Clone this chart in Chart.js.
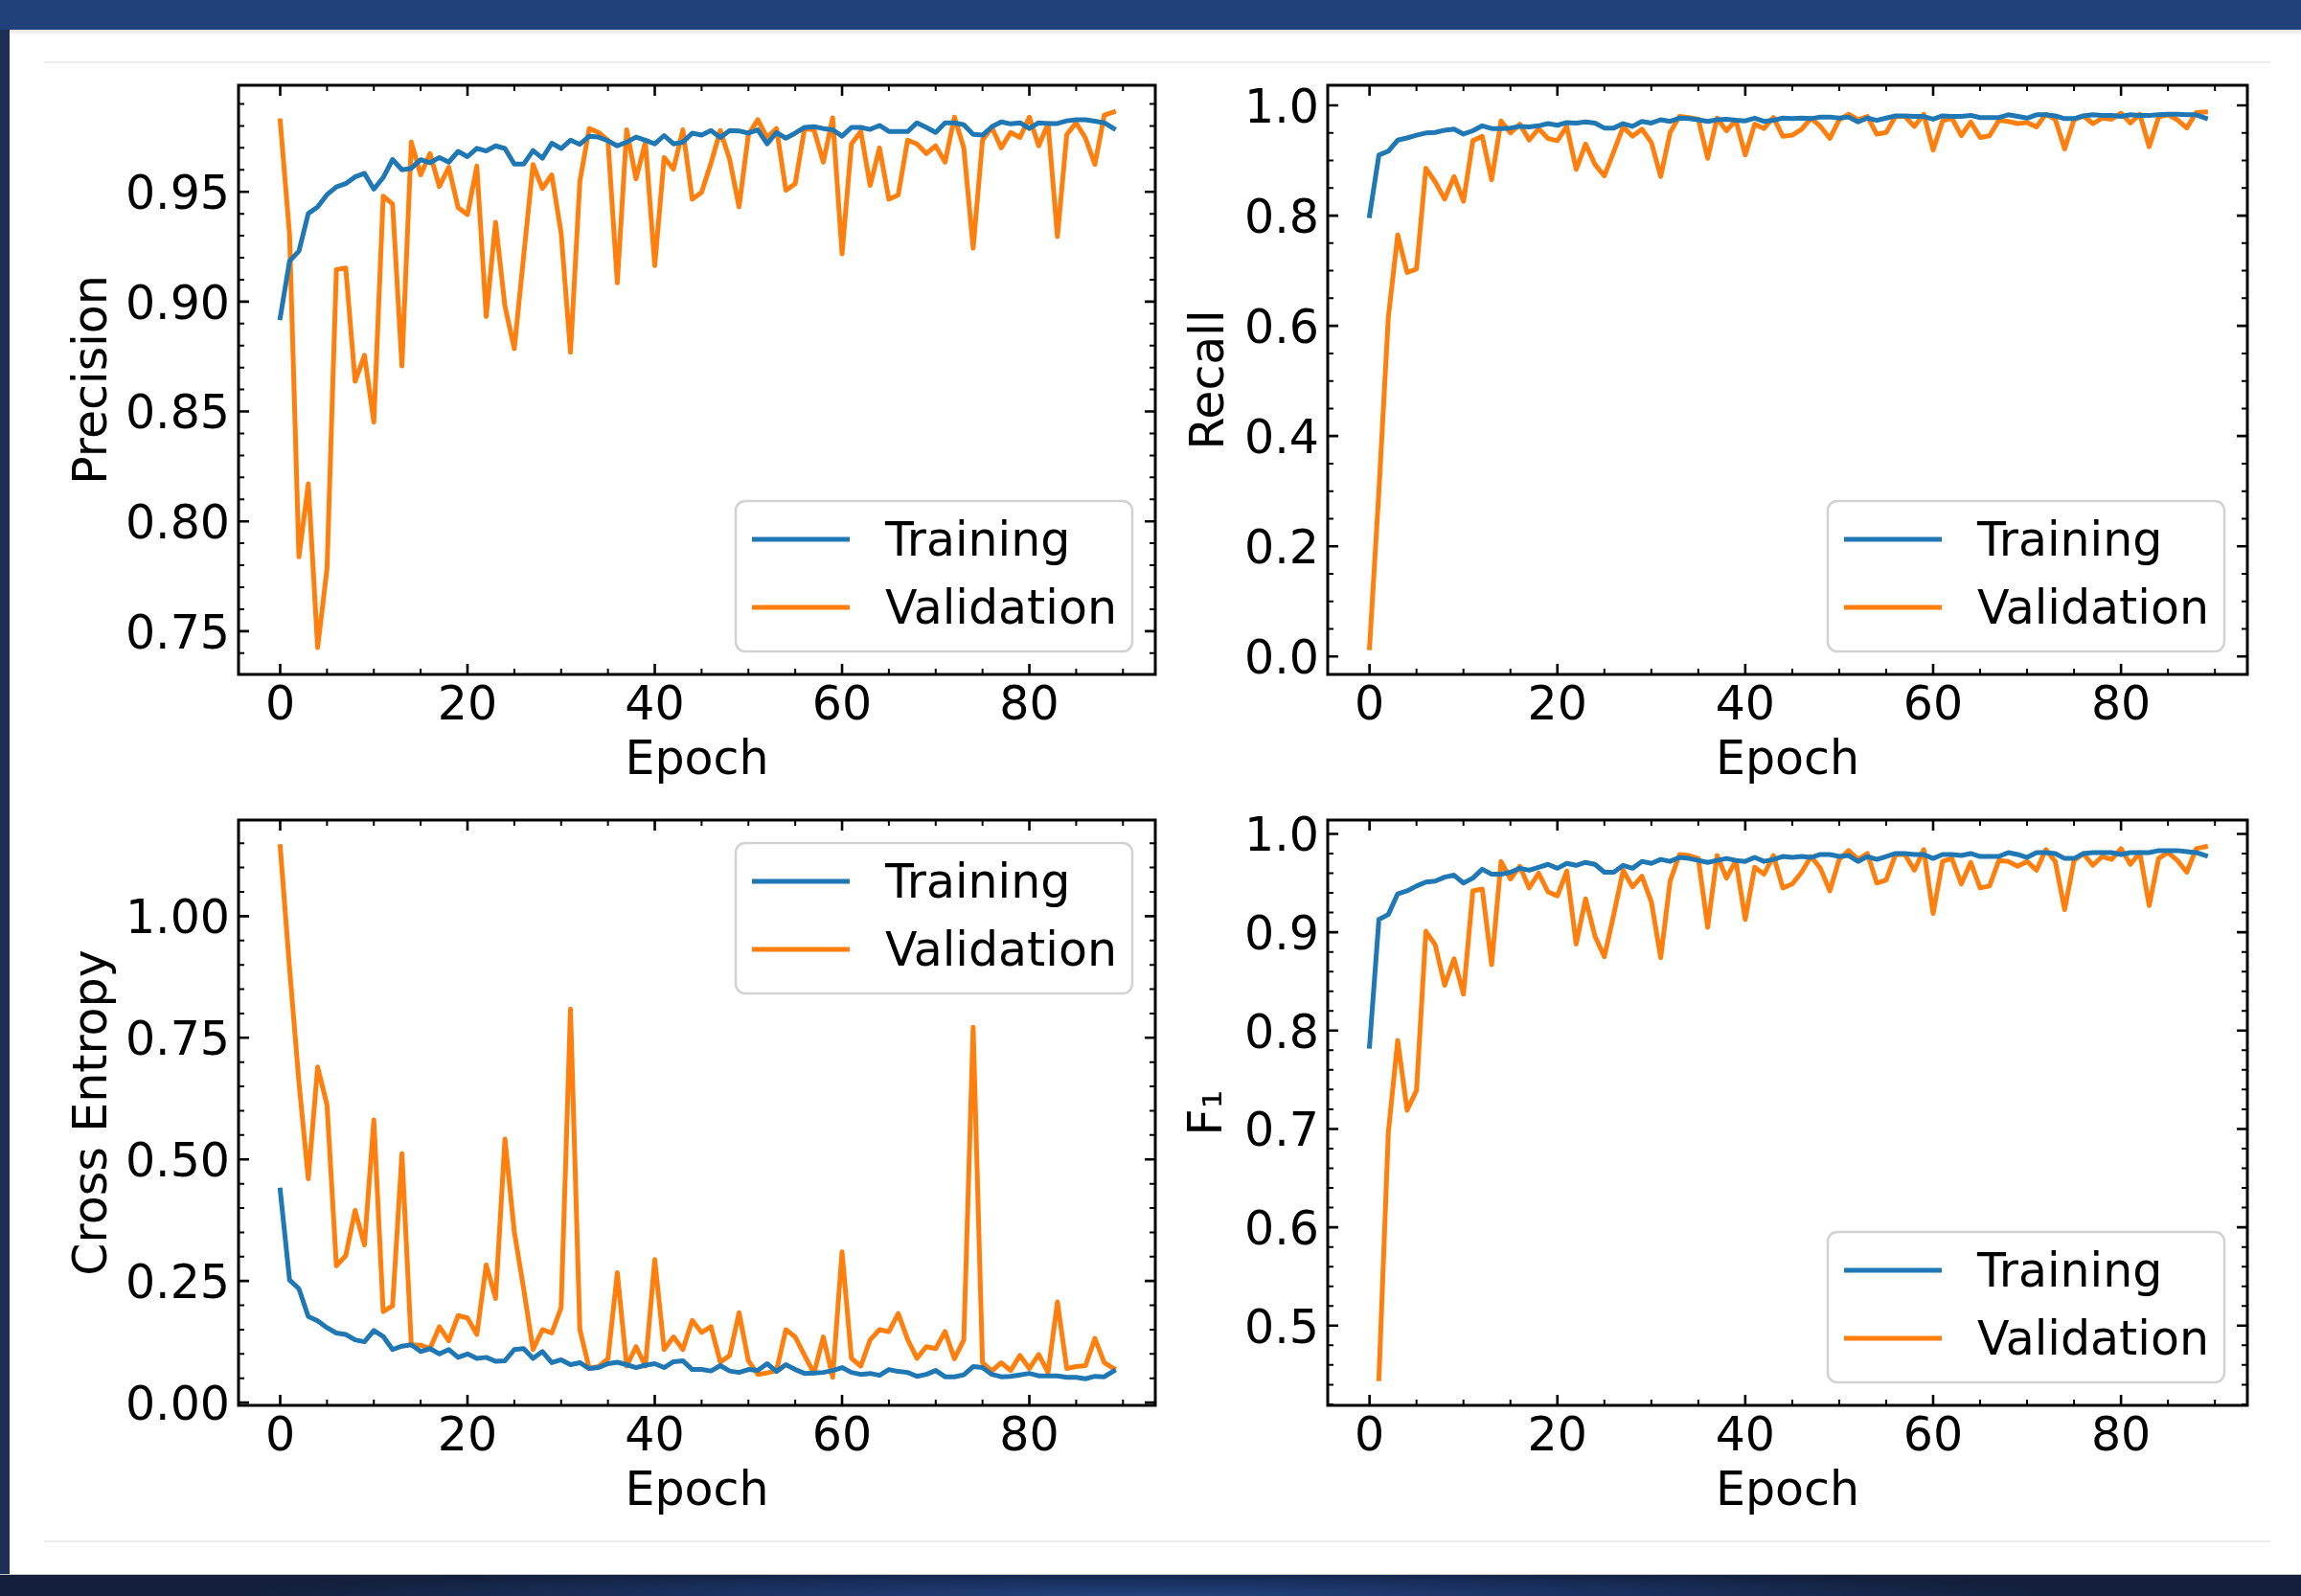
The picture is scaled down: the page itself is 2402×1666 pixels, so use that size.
<!DOCTYPE html>
<html>
<head>
<meta charset="utf-8">
<script src="https://cdn.jsdelivr.net/npm/chart.js@4.4.1/dist/chart.umd.min.js"></script>
<style>
  html, body { margin: 0; padding: 0; background: #fff; }
  body { width: 2402px; height: 1666px; position: relative; overflow: hidden; }
  #topbar { position: absolute; left: 0; top: 0; width: 2402px; height: 31px; background: #22407a; }
  #topshade { position: absolute; left: 10px; top: 31px; width: 2392px; height: 6px; background: linear-gradient(#e2e2e2, #ffffff); }
  #leftbar { position: absolute; left: 0; top: 31px; width: 10px; height: 1612px; background: #1b2f57; }
  #bottombar { position: absolute; left: 0; top: 1643px; width: 2402px; height: 23px;
    background: radial-gradient(ellipse 40% 140% at 50% 100%, #22437e 0%, #1a3262 45%, #131f3b 100%);
    border-top: 1px solid #c8c8c8; box-sizing: border-box; }
  .rule { position: absolute; left: 46px; width: 2324px; height: 2px; background: #ececec; }
  canvas { position: absolute; }
</style>
</head>
<body>
<div id="topbar"></div>
<div id="topshade"></div>
<div id="leftbar"></div>
<div class="rule" style="top:64px"></div>
<div class="rule" style="top:1608px"></div>
<div id="bottombar"></div>

<canvas id="precisionChart" width="1180" height="774" style="left:40px; top:60px"></canvas>
<canvas id="recallChart" width="1130" height="774" style="left:1230px; top:60px"></canvas>
<canvas id="lossChart" width="1180" height="757" style="left:40px; top:840px"></canvas>
<canvas id="f1Chart" width="1130" height="757" style="left:1230px; top:840px"></canvas>

<script>
// epochs 0..89
const epochs = Array.from({length: 90}, (_, i) => i);
const epochTicks = [0, 20, 40, 60, 80];
const seriesNames = ['Training', 'Validation'];

const precisionTicks = [0.75, 0.80, 0.85, 0.90, 0.95];
const recallTicks = [0.0, 0.2, 0.4, 0.6, 0.8, 1.0];
const lossTicks = [0.00, 0.25, 0.50, 0.75, 1.00];
const f1Ticks = [0.5, 0.6, 0.7, 0.8, 0.9, 1.0];

const precisionTrain = [
  0.8927, 0.9185, 0.9230, 0.9401, 0.9431, 0.9487, 0.9522, 0.9537, 0.9568, 0.9584,
  0.9512, 0.9565, 0.9647, 0.9600, 0.9607, 0.9646, 0.9632, 0.9656, 0.9635, 0.9684,
  0.9660, 0.9698, 0.9686, 0.9709, 0.9697, 0.9626, 0.9626, 0.9688, 0.9653, 0.9721,
  0.9697, 0.9735, 0.9716, 0.9753, 0.9749, 0.9732, 0.9709, 0.9726, 0.9749, 0.9735,
  0.9718, 0.9756, 0.9718, 0.9726, 0.9767, 0.9758, 0.9779, 0.9747, 0.9779, 0.9777,
  0.9767, 0.9782, 0.9718, 0.9770, 0.9744, 0.9767, 0.9793, 0.9796, 0.9788, 0.9782,
  0.9753, 0.9793, 0.9793, 0.9784, 0.9802, 0.9775, 0.9774, 0.9774, 0.9814, 0.9793,
  0.9770, 0.9814, 0.9814, 0.9805, 0.9761, 0.9758, 0.9796, 0.9818, 0.9809, 0.9814,
  0.9788, 0.9814, 0.9811, 0.9811, 0.9823, 0.9828, 0.9828, 0.9821, 0.9814, 0.9788
];
const precisionVal = [
  0.9823, 0.9305, 0.7838, 0.8171, 0.7425, 0.7785, 0.9146, 0.9153, 0.8637, 0.8756,
  0.8452, 0.9480, 0.9445, 0.8707, 0.9726, 0.9577, 0.9674, 0.9524, 0.9612, 0.9428,
  0.9396, 0.9617, 0.8932, 0.9361, 0.8980, 0.8786, 0.9208, 0.9624, 0.9515, 0.9577,
  0.9313, 0.8769, 0.9547, 0.9788, 0.9770, 0.9735, 0.9085, 0.9782, 0.9559, 0.9726,
  0.9164, 0.9656, 0.9603, 0.9782, 0.9466, 0.9498, 0.9630, 0.9779, 0.9647, 0.9431,
  0.9761, 0.9828, 0.9747, 0.9788, 0.9507, 0.9537, 0.9788, 0.9782, 0.9635, 0.9837,
  0.9217, 0.9718, 0.9775, 0.9529, 0.9700, 0.9466, 0.9486, 0.9735, 0.9718, 0.9674,
  0.9709, 0.9635, 0.9840, 0.9700, 0.9243, 0.9735, 0.9793, 0.9700, 0.9770, 0.9747,
  0.9840, 0.9709, 0.9811, 0.9296, 0.9761, 0.9814, 0.9744, 0.9624, 0.9849, 0.9863
];

const recallTrain = [
  0.800, 0.910, 0.917, 0.937, 0.941, 0.946, 0.950, 0.951, 0.955, 0.957,
  0.948, 0.954, 0.963, 0.958, 0.958, 0.959, 0.962, 0.961, 0.963, 0.967,
  0.964, 0.969, 0.968, 0.970, 0.968, 0.959, 0.959, 0.967, 0.962, 0.971,
  0.968, 0.974, 0.971, 0.977, 0.976, 0.974, 0.971, 0.974, 0.975, 0.973,
  0.972, 0.977, 0.971, 0.973, 0.977, 0.976, 0.977, 0.976, 0.979, 0.979,
  0.977, 0.979, 0.970, 0.977, 0.973, 0.977, 0.981, 0.981, 0.980, 0.980,
  0.975, 0.981, 0.980, 0.980, 0.982, 0.978, 0.978, 0.978, 0.983, 0.980,
  0.977, 0.983, 0.983, 0.981, 0.976, 0.976, 0.981, 0.983, 0.982, 0.982,
  0.980, 0.983, 0.982, 0.982, 0.983, 0.984, 0.984, 0.983, 0.983, 0.977
];
const recallVal = [
  0.016, 0.300, 0.615, 0.765, 0.697, 0.703, 0.886, 0.861, 0.830, 0.871,
  0.826, 0.936, 0.944, 0.865, 0.972, 0.950, 0.966, 0.937, 0.958, 0.940,
  0.936, 0.962, 0.884, 0.930, 0.893, 0.872, 0.916, 0.961, 0.944, 0.957,
  0.933, 0.871, 0.951, 0.980, 0.978, 0.975, 0.904, 0.977, 0.954, 0.973,
  0.910, 0.966, 0.958, 0.978, 0.944, 0.946, 0.957, 0.977, 0.962, 0.940,
  0.974, 0.984, 0.974, 0.980, 0.948, 0.951, 0.980, 0.980, 0.962, 0.984,
  0.919, 0.972, 0.977, 0.945, 0.970, 0.942, 0.945, 0.973, 0.971, 0.967,
  0.969, 0.961, 0.984, 0.975, 0.921, 0.974, 0.981, 0.967, 0.977, 0.975,
  0.986, 0.968, 0.984, 0.925, 0.979, 0.983, 0.974, 0.959, 0.987, 0.988
];

const lossTrain = [
  0.437, 0.252, 0.234, 0.177, 0.168, 0.154, 0.143, 0.140, 0.129, 0.125,
  0.148, 0.136, 0.109, 0.116, 0.119, 0.105, 0.111, 0.100, 0.109, 0.093,
  0.100, 0.091, 0.093, 0.085, 0.086, 0.109, 0.111, 0.091, 0.105, 0.082,
  0.088, 0.078, 0.082, 0.070, 0.072, 0.080, 0.083, 0.078, 0.072, 0.077,
  0.080, 0.072, 0.084, 0.086, 0.068, 0.068, 0.065, 0.076, 0.065, 0.062,
  0.068, 0.066, 0.080, 0.064, 0.078, 0.068, 0.060, 0.061, 0.062, 0.066,
  0.072, 0.062, 0.058, 0.060, 0.056, 0.068, 0.064, 0.062, 0.054, 0.058,
  0.066, 0.053, 0.053, 0.057, 0.074, 0.072, 0.058, 0.053, 0.054, 0.057,
  0.060, 0.055, 0.055, 0.055, 0.052, 0.052, 0.049, 0.054, 0.053, 0.065
];
const lossVal = [
  1.143, 0.893, 0.659, 0.460, 0.690, 0.612, 0.281, 0.302, 0.395, 0.324,
  0.581, 0.187, 0.199, 0.512, 0.119, 0.118, 0.111, 0.156, 0.127, 0.179,
  0.174, 0.140, 0.283, 0.214, 0.542, 0.351, 0.234, 0.109, 0.150, 0.143,
  0.195, 0.809, 0.150, 0.070, 0.074, 0.090, 0.267, 0.075, 0.115, 0.075,
  0.294, 0.109, 0.135, 0.109, 0.169, 0.144, 0.156, 0.083, 0.097, 0.185,
  0.086, 0.058, 0.061, 0.066, 0.150, 0.135, 0.097, 0.060, 0.135, 0.052,
  0.310, 0.091, 0.075, 0.129, 0.150, 0.146, 0.183, 0.130, 0.091, 0.115,
  0.111, 0.146, 0.090, 0.129, 0.772, 0.082, 0.065, 0.082, 0.066, 0.097,
  0.070, 0.099, 0.062, 0.207, 0.070, 0.074, 0.076, 0.132, 0.082, 0.070
];

const f1Train = [
  0.784, 0.913, 0.918, 0.939, 0.942, 0.947, 0.951, 0.952, 0.956, 0.958,
  0.950, 0.955, 0.964, 0.959, 0.959, 0.961, 0.965, 0.963, 0.966, 0.969,
  0.965, 0.970, 0.968, 0.971, 0.969, 0.961, 0.961, 0.968, 0.965, 0.972,
  0.970, 0.974, 0.972, 0.976, 0.975, 0.973, 0.971, 0.973, 0.975, 0.973,
  0.972, 0.976, 0.972, 0.974, 0.977, 0.976, 0.977, 0.976, 0.979, 0.979,
  0.977, 0.978, 0.972, 0.977, 0.974, 0.977, 0.980, 0.980, 0.979, 0.979,
  0.975, 0.979, 0.979, 0.978, 0.980, 0.977, 0.977, 0.977, 0.981, 0.979,
  0.976, 0.981, 0.981, 0.980, 0.975, 0.975, 0.980, 0.981, 0.981, 0.981,
  0.979, 0.981, 0.981, 0.981, 0.983, 0.983, 0.983, 0.982, 0.981, 0.978
];
// first validation F1 is undefined (no positive predictions yet)
const f1Val = [
  null,  0.446, 0.696, 0.790, 0.719, 0.739, 0.901, 0.887, 0.846, 0.873,
  0.837, 0.942, 0.944, 0.867, 0.972, 0.954, 0.967, 0.945, 0.960, 0.941,
  0.937, 0.962, 0.888, 0.934, 0.896, 0.875, 0.918, 0.963, 0.946, 0.957,
  0.931, 0.874, 0.952, 0.979, 0.978, 0.975, 0.905, 0.978, 0.955, 0.973,
  0.913, 0.966, 0.959, 0.978, 0.945, 0.949, 0.961, 0.977, 0.965, 0.942,
  0.974, 0.983, 0.974, 0.980, 0.950, 0.953, 0.979, 0.979, 0.963, 0.984,
  0.919, 0.972, 0.975, 0.949, 0.971, 0.945, 0.947, 0.973, 0.972, 0.967,
  0.972, 0.963, 0.984, 0.972, 0.923, 0.973, 0.980, 0.968, 0.977, 0.974,
  0.985, 0.969, 0.981, 0.927, 0.975, 0.981, 0.973, 0.961, 0.985, 0.987
];

const BLUE = '#1f77b4';
const ORANGE = '#ff7f0e';
const FONT = { family: 'DejaVu Sans', size: 49, lineHeight: 1.2 };

Chart.defaults.font.family = 'DejaVu Sans';
Chart.defaults.color = '#000';

// matplotlib-ish inward ticks on all four sides
function markTicks(ctx, scale, a, step, majors, horizontal) {
  const first = Math.ceil(scale.min / step - 1e-6);
  const last = Math.floor(scale.max / step + 1e-6);
  for (let n = first; n <= last; n++) {
    const v = n * step;
    const major = majors.some(m => Math.abs(m - v) < step / 100);
    const len = major ? 11 : 6;
    const p = scale.getPixelForValue(v);
    ctx.lineWidth = major ? 2.6 : 2;
    ctx.beginPath();
    if (horizontal) {
      ctx.moveTo(p, a.bottom); ctx.lineTo(p, a.bottom - len);
      ctx.moveTo(p, a.top); ctx.lineTo(p, a.top + len);
    } else {
      ctx.moveTo(a.left, p); ctx.lineTo(a.left + len, p);
      ctx.moveTo(a.right, p); ctx.lineTo(a.right - len, p);
    }
    ctx.stroke();
  }
}

function drawLegend(ctx, chart, corner) {
  const a = chart.chartArea;
  const w = 414, h = 157, inset = 24, r = 10;
  const bx = a.right - inset - w;
  const by = corner === 'top' ? a.top + inset : a.bottom - inset - h;
  ctx.beginPath();
  ctx.moveTo(bx + r, by);
  ctx.arcTo(bx + w, by, bx + w, by + h, r);
  ctx.arcTo(bx + w, by + h, bx, by + h, r);
  ctx.arcTo(bx, by + h, bx, by, r);
  ctx.arcTo(bx, by, bx + w, by, r);
  ctx.closePath();
  ctx.fillStyle = 'rgba(255,255,255,0.8)';
  ctx.fill();
  ctx.lineWidth = 2.5;
  ctx.strokeStyle = '#d2d2d2';
  ctx.stroke();

  chart.data.datasets.forEach((ds, i) => {
    const ly = by + 40 + i * 71;
    ctx.beginPath();
    ctx.lineWidth = 5;
    ctx.strokeStyle = ds.borderColor;
    ctx.moveTo(bx + 17, ly);
    ctx.lineTo(bx + 119, ly);
    ctx.stroke();
    ctx.fillStyle = '#000';
    ctx.font = '49px "DejaVu Sans"';
    ctx.textAlign = 'left';
    ctx.textBaseline = 'middle';
    ctx.fillText(ds.label, bx + 156, ly + 4);
  });
}

const framePlugin = {
  id: 'mplFrame',
  afterDatasetsDraw(chart, args, o) {
    const { ctx, chartArea: a, scales } = chart;
    ctx.save();
    ctx.strokeStyle = '#000';
    ctx.lineCap = 'butt';
    markTicks(ctx, scales.x, a, o.minorX, epochTicks, true);
    markTicks(ctx, scales.y, a, o.minorY, o.majorY, false);
    ctx.lineWidth = 3;
    ctx.strokeRect(a.left, a.top, a.right - a.left, a.bottom - a.top);
    drawLegend(ctx, chart, o.corner);
    ctx.restore();
  }
};

function toPoints(values) {
  return epochs.map((e, i) => ({ x: e, y: values[i] }));
}

function drawPanel(id, p) {
  const all = p.train.concat(p.val).filter(v => v !== null);
  const lo = Math.min(...all);
  const hi = Math.max(...all);
  const margin = (hi - lo) * 0.05;

  new Chart(document.getElementById(id), {
    type: 'line',
    data: {
      datasets: [
        { label: seriesNames[0], data: toPoints(p.train), borderColor: BLUE, backgroundColor: BLUE },
        { label: seriesNames[1], data: toPoints(p.val), borderColor: ORANGE, backgroundColor: ORANGE }
      ]
    },
    options: {
      responsive: false,
      animation: false,
      devicePixelRatio: 1,
      layout: { padding: { top: p.padTop, right: 14, bottom: 0, left: 0 } },
      elements: {
        point: { radius: 0, hoverRadius: 0 },
        line: { borderWidth: 5, tension: 0, fill: false, borderJoinStyle: 'round', borderCapStyle: 'square' }
      },
      plugins: {
        legend: { display: false },
        tooltip: { enabled: false },
        mplFrame: { minorX: 5, minorY: p.minor, majorY: p.ticks, corner: p.corner }
      },
      scales: {
        x: {
          type: 'linear',
          min: -4.45,
          max: 93.45,
          grid: { display: false, drawTicks: false },
          border: { display: false },
          afterBuildTicks: s => { s.ticks = epochTicks.map(v => ({ value: v })); },
          afterFit: s => { s.height = 130; s.paddingLeft = 0; s.paddingRight = 0; },
          ticks: { padding: 5, color: '#000', font: FONT, maxRotation: 0, autoSkip: false,
                   callback: v => String(v) },
          title: { display: true, text: 'Epoch', color: '#000', font: FONT,
                   padding: { top: 0, bottom: 9 } }
        },
        y: {
          type: 'linear',
          min: lo - margin,
          max: hi + margin,
          grid: { display: false, drawTicks: false },
          border: { display: false },
          afterBuildTicks: s => { s.ticks = p.ticks.map(v => ({ value: v })); },
          afterFit: s => { s.width = p.axisWidth; s.paddingTop = 0; s.paddingBottom = 0; },
          ticks: { padding: 9, labelOffset: 5, color: '#000', font: FONT, autoSkip: false,
                   callback: v => v.toFixed(p.digits) },
          title: { display: true, text: p.label, color: '#000', font: FONT,
                   padding: { top: p.titlePad, bottom: 0 } }
        }
      }
    },
    plugins: [framePlugin]
  });
}

drawPanel('precisionChart', {
  train: precisionTrain, val: precisionVal, label: 'Precision',
  ticks: precisionTicks, digits: 2, minor: 0.01,
  axisWidth: 209, titlePad: 29, padTop: 29, corner: 'bottom'
});
drawPanel('recallChart', {
  train: recallTrain, val: recallVal, label: 'Recall',
  ticks: recallTicks, digits: 1, minor: 0.05,
  axisWidth: 156, titlePad: 5, padTop: 29, corner: 'bottom'
});
drawPanel('lossChart', {
  train: lossTrain, val: lossVal, label: 'Cross Entropy',
  ticks: lossTicks, digits: 2, minor: 0.05,
  axisWidth: 209, titlePad: 29, padTop: 16, corner: 'top'
});
drawPanel('f1Chart', {
  train: f1Train, val: f1Val, label: 'F\u2081',
  ticks: f1Ticks, digits: 1, minor: 0.02,
  axisWidth: 156, titlePad: 3, padTop: 16, corner: 'bottom'
});
</script>
</body>
</html>
